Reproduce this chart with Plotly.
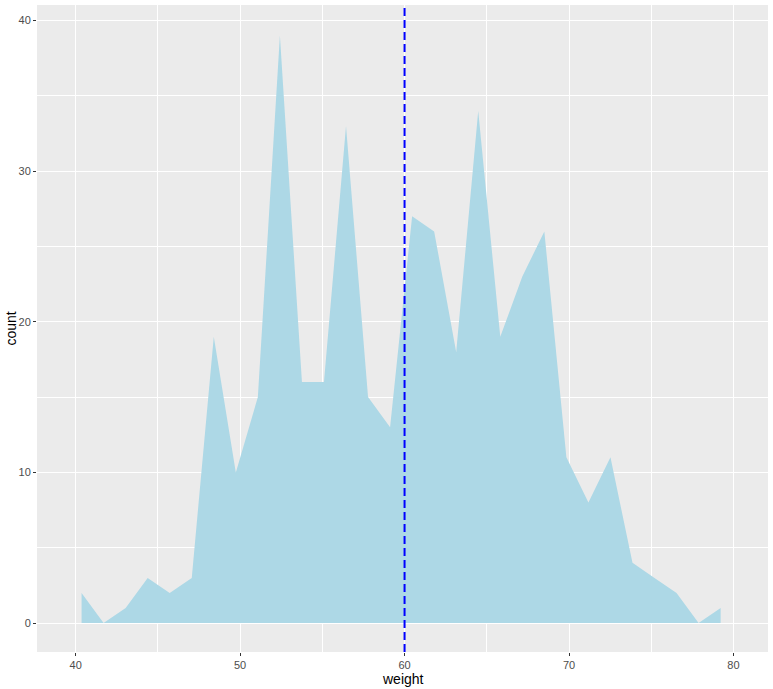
import plotly.graph_objects as go

# Bin centers (weight) and counts
weight_bins = [40.36, 41.70, 43.04, 44.38, 45.72, 47.06, 48.40, 49.74, 51.08, 52.42,
               53.76, 55.10, 56.44, 57.78, 59.12, 60.46, 61.80, 63.14, 64.48, 65.82,
               67.16, 68.50, 69.84, 71.18, 72.52, 73.86, 75.20, 76.54, 77.88, 79.22]
counts = [2, 0, 1, 3, 2, 3, 19, 10, 15, 39,
          16, 16, 33, 15, 13, 27, 26, 18, 34, 19,
          23, 26, 11, 8, 11, 4, 3, 2, 0, 1]
mean_weight = 60.0

x_ticks = [40, 50, 60, 70, 80]
y_ticks = [0, 10, 20, 30, 40]
x_title = "weight"
y_title = "count"

fig = go.Figure()
fig.add_trace(go.Scatter(
    x=weight_bins, y=counts, mode="lines", fill="tozeroy",
    fillcolor="#ADD8E6", line=dict(width=0, color="#ADD8E6"),
    hoverinfo="x+y", showlegend=False,
))
fig.add_shape(type="line", x0=mean_weight, x1=mean_weight, xref="x",
              y0=0, y1=1, yref="paper",
              line=dict(color="blue", width=2, dash="8px,4px"))

font_family = "Liberation Sans, Arial, sans-serif"
axis_common = dict(
    showgrid=True, gridcolor="white", gridwidth=1.1,
    zeroline=False, showline=False, automargin=False,
    ticks="outside", ticklen=3, tickwidth=1, tickcolor="#333333",
    tickfont=dict(family=font_family, size=11, color="#4d4d4d"),
)

fig.update_layout(
    width=773, height=689,
    margin=dict(l=37, r=5, t=5, b=37),
    paper_bgcolor="white", plot_bgcolor="#EBEBEB",
    font=dict(family=font_family),
    xaxis=dict(
        **axis_common, range=[37.65, 82.1], tickvals=x_ticks,
        minor=dict(showgrid=True, gridcolor="white", gridwidth=0.5, dtick=5, tick0=35, ticks=""),
    ),
    yaxis=dict(
        **axis_common, range=[-1.92, 41.03], tickvals=y_ticks,
        minor=dict(showgrid=True, gridcolor="white", gridwidth=0.5, dtick=5, tick0=-5, ticks=""),
    ),
    annotations=[
        dict(text=x_title, xref="paper", yref="paper", x=0.5, y=0,
             xanchor="center", yanchor="middle", yshift=-27, showarrow=False,
             font=dict(family=font_family, size=14, color="black")),
        dict(text=y_title, xref="paper", yref="paper", x=0, y=0.5,
             xanchor="center", yanchor="middle", xshift=-27, textangle=-90,
             showarrow=False, font=dict(family=font_family, size=14, color="black")),
    ],
)

fig.write_html("out.html", config={"displayModeBar": False},
               post_script="document.body.style.margin='0';document.body.style.overflow='hidden';")
